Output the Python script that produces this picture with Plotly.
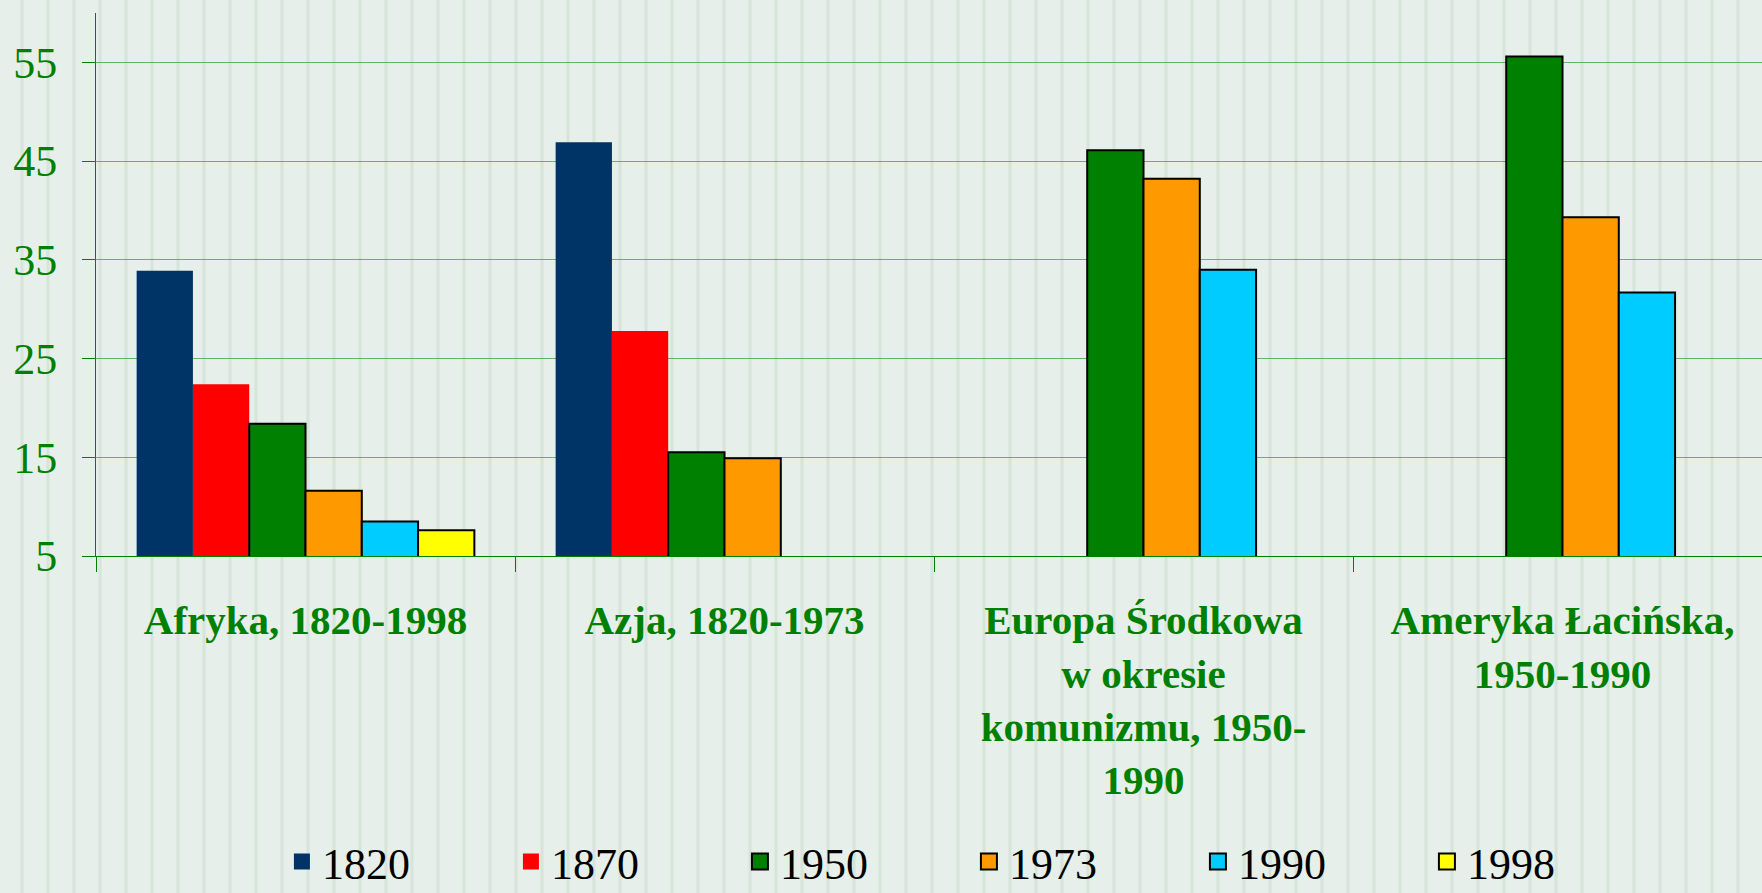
import plotly.graph_objects as go

categories = ["Afryka, 1820-1998", "Azja, 1820-1973",
              "Europa Środkowa<br>w okresie<br>komunizmu, 1950-<br>1990",
              "Ameryka Łacińska,<br>1950-1990"]
years = ["1820", "1870", "1950", "1973", "1990", "1998"]
v1820 = [33.9, 46.9, None, None]
v1870 = [22.4, 27.8, None, None]
v1950 = [18.4, 15.5, 46.1, 55.6]
v1973 = [11.6, 14.9, 43.2, 39.3]
v1990 = [8.5, None, 34.0, 31.7]
v1998 = [7.6, None, None, None]
series = [v1820, v1870, v1950, v1973, v1990, v1998]
colors = ["#003366", "#FF0000", "#008000", "#FF9900", "#00CCFF", "#FFFF00"]
outlined = [False, False, True, True, True, True]
y_ticks = [5, 15, 25, 35, 45, 55]

W, H = 1762, 893
ML, MR, MT, MB = 96, 0, 13, 337
GREEN = "#008000"
BG = "#E6EFE9"

fig = go.Figure()
for name, vals, col, ol in zip(years, series, colors, outlined):
    fig.add_trace(go.Bar(
        x=categories, y=vals, name=name, showlegend=False,
        marker=dict(color=col,
                    line=dict(color="black", width=2 if ol else 0)),
    ))
# legend entries (bigger square swatches)
for name, col, ol in zip(years, colors, outlined):
    fig.add_trace(go.Scatter(
        x=[None], y=[None], mode="markers", name=name, showlegend=True,
        marker=dict(symbol="square", size=16, color=col,
                    line=dict(color="black", width=2 if ol else 0)),
    ))

# decorative vertical stripes of the background
pw = W - ML - MR
ph = H - MT - MB
shapes = []
px = 22
while px < W:
    xp = (px - ML) / pw
    shapes.append(dict(type="line", xref="paper", yref="paper",
                       x0=xp, x1=xp, y0=-MB / ph, y1=1 + MT / ph,
                       line=dict(color="#D6E4DA", width=3), layer="below"))
    px += 26

fig.update_layout(
    width=W, height=H,
    margin=dict(l=ML, r=MR, t=MT, b=MB, autoexpand=False),
    paper_bgcolor=BG,
    plot_bgcolor="rgba(0,0,0,0)",
    barmode="group", bargap=0.194, bargroupgap=0,
    shapes=shapes,
    font=dict(family="Liberation Serif"),
    showlegend=True,
    legend=dict(orientation="h", xref="container", x=0.160, xanchor="left",
                yref="paper", y=-(862 - (H - MB)) / ph, yanchor="middle",
                entrywidth=184, entrywidthmode="pixels",
                font=dict(size=44, color="black", family="Liberation Serif"),
                bgcolor="rgba(0,0,0,0)"),
    xaxis=dict(range=[-0.5, -0.5 + pw / 419],
               showgrid=False, showline=True, linecolor=GREEN, linewidth=1,
               ticks="outside", tickson="boundaries", ticklen=15,
               tickcolor=GREEN, tickwidth=1,
               tickfont=dict(size=41, color=GREEN, family="Liberation Serif",
                             weight="bold"),
               ticklabelstandoff=28),
    yaxis=dict(range=[5, 60], tickvals=y_ticks,
               showgrid=True, gridcolor="rgba(0,128,0,0.55)", gridwidth=1,
               showline=True, linecolor=GREEN, linewidth=1,
               ticks="outside", ticklen=13, tickcolor=GREEN,
               tickfont=dict(size=44, color=GREEN, family="Liberation Serif"),
               ticklabelstandoff=16,
               zeroline=False),
)

fig.write_html("out.html",
               config={"displayModeBar": False},
               post_script="document.body.style.margin='0';"
                           "document.body.style.background='" + BG + "';"
                           "document.body.style.overflow='hidden';")
